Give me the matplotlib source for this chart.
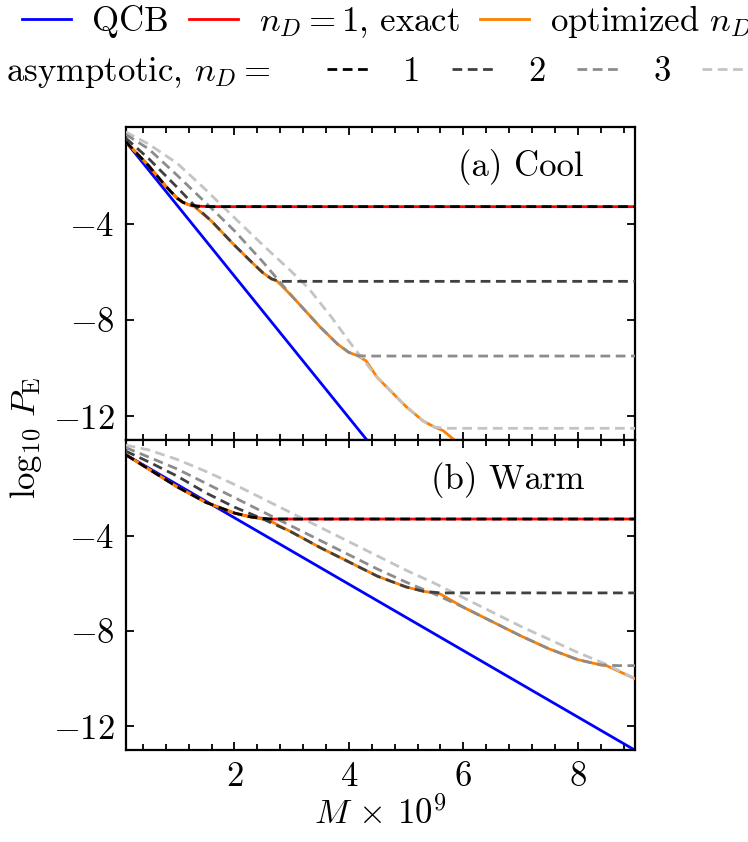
import numpy as np
import matplotlib
matplotlib.use("Agg")
import matplotlib.pyplot as plt
from matplotlib.lines import Line2D
from matplotlib.ticker import MultipleLocator

plt.rcParams.update({
    "font.family": "serif",
    "font.serif": ["cmr10", "DejaVu Serif"],
    "mathtext.fontset": "cm",
    "axes.formatter.use_mathtext": True,
    "font.size": 25,
})

# ---- data (x in units of 1e9, y = log10 P_E) ----
# (a) Cool
COOL_QCB_X = [0.1, 4.32]
COOL_QCB_Y = [-0.6, -13.0]
COOL_N1_X = [0.1, 0.5, 0.8, 1.0, 1.1, 1.2, 1.35, 1.6, 9.0]
COOL_N1_Y = [-0.6, -1.6, -2.45, -2.95, -3.12, -3.22, -3.28, -3.3, -3.3]
COOL_N2_X = [0.1, 0.5, 1.0, 1.3, 1.6, 2.0, 2.3, 2.5, 2.65, 2.8, 9.0]
COOL_N2_Y = [-0.45, -1.3, -2.5, -3.25, -3.9, -4.9, -5.6, -6.05, -6.3, -6.4, -6.4]
COOL_N3_X = [0.1, 0.5, 1.0, 1.57, 2.0, 2.5, 2.75, 3.0, 3.5, 3.8, 4.0, 4.15, 4.3, 9.0]
COOL_N3_Y = [-0.3, -0.9, -2.0, -3.3, -4.3, -5.6, -6.3, -7.0, -8.3, -9.0, -9.35, -9.48, -9.5, -9.5]
COOL_N4_X = [0.1, 0.5, 1.0, 1.5, 1.8, 2.5, 3.0, 3.3, 3.7, 4.1, 4.5, 5.0, 5.3, 5.5, 5.7, 9.0]
COOL_N4_Y = [-0.2, -0.7, -1.5, -2.6, -3.3, -4.9, -6.0, -6.7, -7.9, -9.2, -10.4, -11.6, -12.2,
             -12.45, -12.5, -12.5]
COOL_OPT_X = [0.1, 0.5, 0.8, 1.0, 1.1, 1.2, 1.3, 1.6, 2.0, 2.3, 2.5, 2.65, 2.75, 3.0, 3.5, 3.8,
              4.0, 4.15, 4.3, 4.5, 5.0, 5.3, 5.5, 5.65, 5.85]
COOL_OPT_Y = [-0.6, -1.6, -2.45, -2.95, -3.12, -3.22, -3.3, -3.9, -4.9, -5.6, -6.05, -6.3, -6.4,
              -7.0, -8.3, -9.0, -9.35, -9.48, -9.7, -10.4, -11.6, -12.2, -12.45, -12.6, -13.0]

# (b) Warm
WARM_QCB_X = [0.1, 9.0]
WARM_QCB_Y = [-0.6, -13.0]
WARM_N1_X = [0.1, 0.5, 1.0, 1.5, 2.0, 2.3, 2.6, 2.9, 9.0]
WARM_N1_Y = [-0.6, -1.2, -1.95, -2.6, -3.05, -3.22, -3.3, -3.3, -3.3]
WARM_N2_X = [0.1, 0.5, 1.0, 1.5, 2.0, 2.5, 3.0, 3.5, 4.0, 4.5, 5.0, 5.3, 5.6, 9.0]
WARM_N2_Y = [-0.45, -0.9, -1.5, -2.2, -2.8, -3.3, -3.85, -4.5, -5.1, -5.7, -6.15, -6.33, -6.4, -6.4]
WARM_N3_X = [0.1, 0.5, 1.0, 1.5, 2.0, 2.5, 3.0, 3.5, 4.0, 4.5, 5.0, 5.5, 6.0, 6.5, 7.0, 7.5,
             8.0, 8.4, 8.7, 9.0]
WARM_N3_Y = [-0.3, -0.7, -1.2, -1.8, -2.4, -3.0, -3.6, -4.2, -4.8, -5.4, -5.95, -6.45, -7.0, -7.6,
             -8.2, -8.75, -9.2, -9.42, -9.45, -9.45]
WARM_N4_X = [0.1, 0.5, 1.0, 1.5, 2.0, 2.5, 3.0, 3.5, 4.0, 4.5, 5.0, 5.5, 6.0, 6.5, 7.0, 7.5,
             8.0, 8.5, 9.0]
WARM_N4_Y = [-0.2, -0.4, -0.8, -1.3, -1.85, -2.45, -3.05, -3.65, -4.25, -4.85, -5.45, -6.0, -6.6,
             -7.2, -7.8, -8.35, -8.9, -9.4, -10.0]
WARM_OPT_X = [0.1, 0.5, 1.0, 1.5, 2.0, 2.3, 2.6, 3.0, 3.5, 4.0, 4.5, 5.0, 5.3, 5.6, 6.0, 6.5,
              7.0, 7.5, 8.0, 8.4, 8.5, 9.0]
WARM_OPT_Y = [-0.6, -1.2, -1.95, -2.6, -3.05, -3.22, -3.35, -3.85, -4.5, -5.1, -5.7, -6.15, -6.33,
              -6.45, -7.0, -7.6, -8.2, -8.75, -9.2, -9.42, -9.45, -10.0]

GRAYS = ["#000000", "#404040", "#8c8c8c", "#c4c4c4"]
DASH = (0, (3.5, 2.0))

fig = plt.figure(figsize=(7.48, 8.42), dpi=100)
ax_a = fig.add_axes([0.168, 0.477, 0.681, 0.372])
ax_b = fig.add_axes([0.168, 0.109, 0.681, 0.368])

panels = [
    (ax_a, "(a) Cool", COOL_QCB_X, COOL_QCB_Y, COOL_N1_X, COOL_N1_Y, COOL_OPT_X, COOL_OPT_Y,
     [(COOL_N1_X, COOL_N1_Y), (COOL_N2_X, COOL_N2_Y), (COOL_N3_X, COOL_N3_Y), (COOL_N4_X, COOL_N4_Y)]),
    (ax_b, "(b) Warm", WARM_QCB_X, WARM_QCB_Y, WARM_N1_X, WARM_N1_Y, WARM_OPT_X, WARM_OPT_Y,
     [(WARM_N1_X, WARM_N1_Y), (WARM_N2_X, WARM_N2_Y), (WARM_N3_X, WARM_N3_Y), (WARM_N4_X, WARM_N4_Y)]),
]

for ax, title, qx, qy, ex, ey, ox, oy, asym in panels:
    ax.plot(qx, qy, color="#0000ff", lw=2, zorder=2)
    ax.plot(ex, ey, color="#ff0000", lw=2, zorder=2)
    ax.plot(ox, oy, color="#ff8000", lw=2, zorder=3)
    for k in range(3, -1, -1):
        ax.plot(asym[k][0], asym[k][1], color=GRAYS[k], lw=2, ls=DASH, zorder=4 + (3 - k))
    ax.set_xlim(0.1, 9.0)
    ax.set_ylim(-13, 0)
    ax.set_yticks([-4, -8, -12])
    ax.set_xticks([2, 4, 6, 8])
    ax.xaxis.set_minor_locator(MultipleLocator(0.4))
    ax.tick_params(which="both", direction="in", top=True, right=True, width=1.3,
                   labelsize=25, pad=8)
    ax.tick_params(which="major", length=6)
    ax.tick_params(which="minor", length=4)
    for s in ax.spines.values():
        s.set_linewidth(1.6)
    ax.text(0.90, 0.93, title, transform=ax.transAxes, ha="right", va="top", fontsize=25)

ax_a.tick_params(labelbottom=False)
ax_b.set_xlabel(r"$M\,\times\,10^9$", fontsize=25, labelpad=2)
fig.text(0.035, 0.48, r"$\log_{10}\,P_{\rm E}$", rotation=90, ha="center", va="center", fontsize=25)

# legend, two rows
h1 = [Line2D([], [], color="#0000ff", lw=2), Line2D([], [], color="#ff0000", lw=2),
      Line2D([], [], color="#ff8000", lw=2)]
fig.legend(h1, ["QCB", r"$n_D = 1$, exact", r"optimized $n_D$"], loc="center left",
           bbox_to_anchor=(-0.012, 0.974), ncol=3, frameon=False, handlelength=1.4,
           handletextpad=0.6, columnspacing=0.6, fontsize=25)
fig.text(0.008, 0.914, r"asymptotic, $n_D =$", ha="left", va="center", fontsize=25)
h2 = [Line2D([], [], color=c, lw=2, ls=DASH) for c in GRAYS]
fig.legend(h2, ["1", "2", "3", "4"], loc="center left", bbox_to_anchor=(0.395, 0.914), ncol=4,
           frameon=False, handlelength=1.3, handletextpad=0.9, columnspacing=0.9, fontsize=25)

fig.savefig("out.png", dpi=100)
